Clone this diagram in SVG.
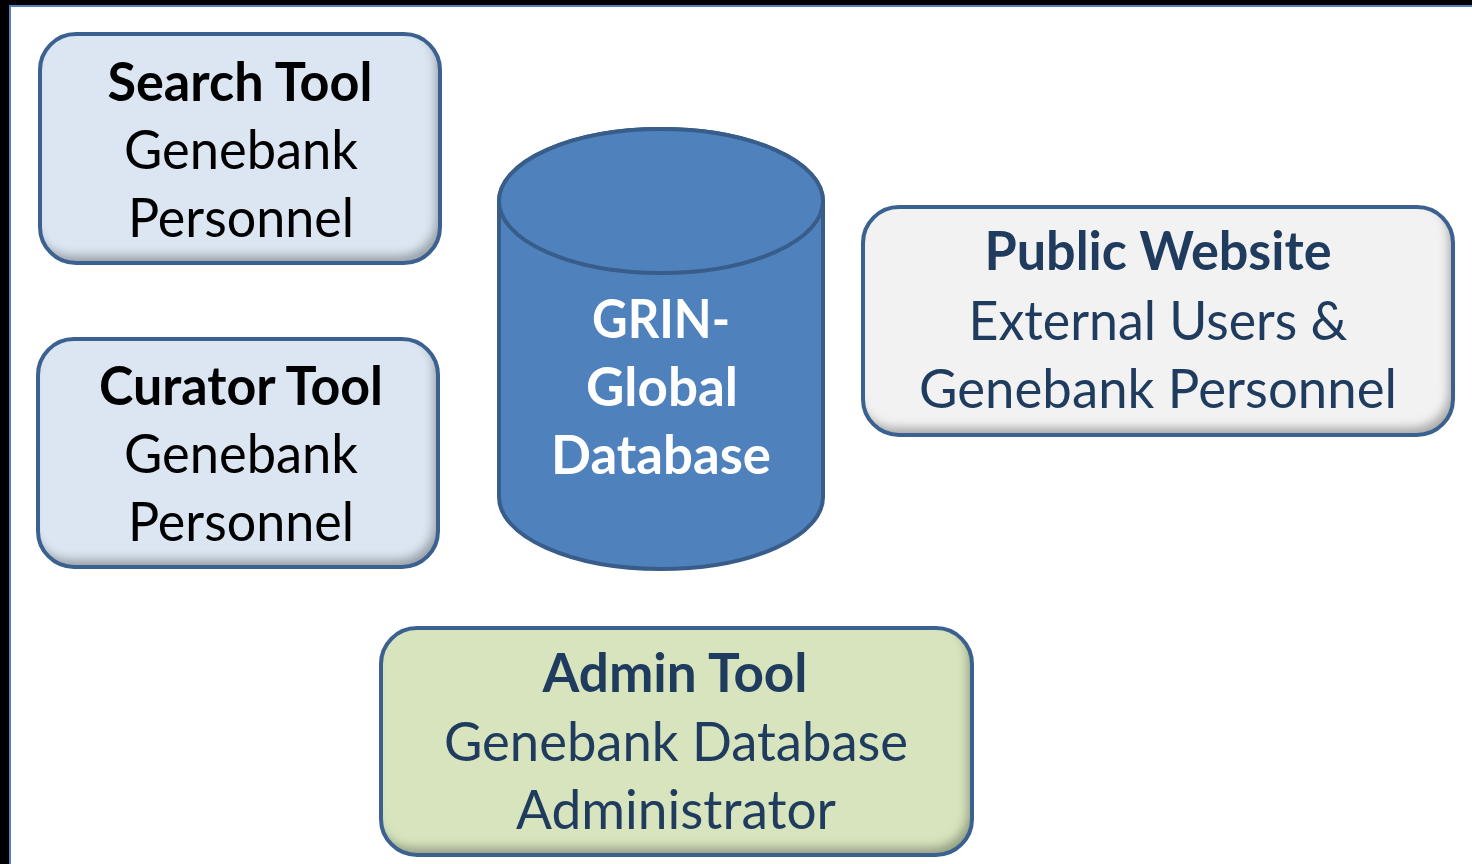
<svg xmlns="http://www.w3.org/2000/svg" width="1472" height="864" viewBox="0 0 1472 864">
<defs>
<filter id="inner" x="-5%" y="-5%" width="110%" height="110%">
<feGaussianBlur in="SourceAlpha" stdDeviation="5" result="b"/>
<feOffset in="b" dx="-5" dy="-8" result="o"/>
<feComposite in="SourceAlpha" in2="o" operator="out" result="mask"/>
<feFlood flood-color="#000" flood-opacity="0.55"/>
<feComposite in2="mask" operator="in" result="shadow"/>
<feMerge><feMergeNode in="SourceGraphic"/><feMergeNode in="shadow"/></feMerge>
</filter>
</defs>
<style>
.box{stroke:#3b6190;stroke-width:4;fill:none}
.t{font-family:Lato,"Open Sans","Liberation Sans",sans-serif;font-size:54px;text-anchor:middle}
.b{font-weight:bold}
.dark{fill:#000}
.navy{fill:#1f3b5e}
.white{fill:#fff}
</style>
<rect x="0" y="0" width="1472" height="864" fill="#000"/>
<rect x="10" y="6" width="1470" height="866" fill="#fff" stroke="#4f81bd" stroke-width="2"/>

<g id="search-tool">
<rect x="40" y="34" width="400" height="229" rx="36" fill="#dce6f2" filter="url(#inner)"/>
<rect x="40" y="34" width="400" height="229" rx="36" class="box"/>
<text class="t b dark" x="240" y="101" textLength="265" lengthAdjust="spacingAndGlyphs">Search Tool</text>
<text class="t dark" x="241" y="169" textLength="234" lengthAdjust="spacingAndGlyphs">Genebank</text>
<text class="t dark" x="241" y="237" textLength="226" lengthAdjust="spacingAndGlyphs">Personnel</text>
</g>

<g id="curator-tool">
<rect x="38" y="339" width="400" height="228" rx="36" fill="#dce6f2" filter="url(#inner)"/>
<rect x="38" y="339" width="400" height="228" rx="36" class="box"/>
<text class="t b dark" x="241" y="405" textLength="284" lengthAdjust="spacingAndGlyphs">Curator Tool</text>
<text class="t dark" x="241" y="473" textLength="234" lengthAdjust="spacingAndGlyphs">Genebank</text>
<text class="t dark" x="241" y="541" textLength="226" lengthAdjust="spacingAndGlyphs">Personnel</text>
</g>

<g id="grin-global-database">
<path d="M499,201 L499,497 A162,72 0 0 0 823,497 L823,201 A162,72 0 0 0 499,201 Z" fill="#4f81bd" stroke="#385d8a" stroke-width="4"/>
<ellipse cx="661" cy="201" rx="162" ry="72" fill="#4f81bd" stroke="#385d8a" stroke-width="4"/>
<text class="t b white" x="661" y="338" textLength="138" lengthAdjust="spacingAndGlyphs">GRIN-</text>
<text class="t b white" x="662" y="406" textLength="152" lengthAdjust="spacingAndGlyphs">Global</text>
<text class="t b white" x="661" y="474" textLength="220" lengthAdjust="spacingAndGlyphs">Database</text>
</g>

<g id="public-website">
<rect x="863" y="207" width="590" height="228" rx="36" fill="#f2f2f2" filter="url(#inner)"/>
<rect x="863" y="207" width="590" height="228" rx="36" class="box"/>
<text class="t b navy" x="1158" y="270" textLength="347" lengthAdjust="spacingAndGlyphs">Public Website</text>
<text class="t navy" x="1158" y="340" textLength="379" lengthAdjust="spacingAndGlyphs">External Users &amp;</text>
<text class="t navy" x="1158" y="408" textLength="478" lengthAdjust="spacingAndGlyphs">Genebank Personnel</text>
</g>

<g id="admin-tool">
<rect x="381" y="628" width="591" height="227" rx="36" fill="#d7e4bd" filter="url(#inner)"/>
<rect x="381" y="628" width="591" height="227" rx="36" class="box"/>
<text class="t b navy" x="675" y="692" textLength="265" lengthAdjust="spacingAndGlyphs">Admin Tool</text>
<text class="t navy" x="676" y="761" textLength="464" lengthAdjust="spacingAndGlyphs">Genebank Database</text>
<text class="t navy" x="676" y="829" textLength="320" lengthAdjust="spacingAndGlyphs">Administrator</text>
</g>

<g id="connectors"></g>
</svg>
